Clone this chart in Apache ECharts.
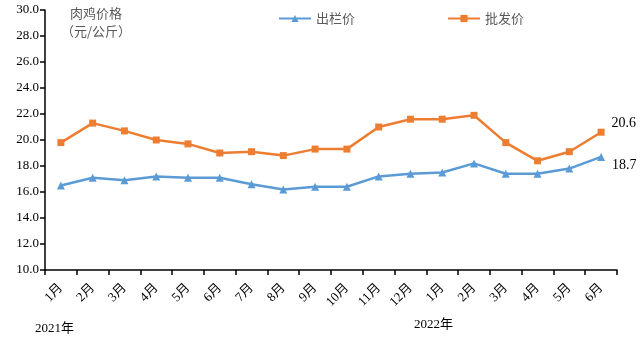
<!DOCTYPE html>
<html>
<head>
<meta charset="utf-8">
<script src="https://cdn.jsdelivr.net/npm/echarts@6/dist/echarts.min.js"></script>
<style>
  html, body { margin: 0; padding: 0; background: #fff; }
  #chart { width: 643px; height: 343px; }
</style>
</head>
<body>
<div id="chart"></div>
<script>
// Monthly broiler prices, Jan 2021 – Jun 2022 (yuan per kg)
const months = ['1月','2月','3月','4月','5月','6月','7月','8月','9月','10月','11月','12月',
                '1月','2月','3月','4月','5月','6月'];
const farmGatePrice = [16.5, 17.1, 16.9, 17.2, 17.1, 17.1, 16.6, 16.2, 16.4, 16.4, 17.2, 17.4,
                       17.5, 18.2, 17.4, 17.4, 17.8, 18.7];
const wholesalePrice = [19.8, 21.3, 20.7, 20.0, 19.7, 19.0, 19.1, 18.8, 19.3, 19.3, 21.0, 21.6,
                        21.6, 21.9, 19.8, 18.4, 19.1, 20.6];
const yearLabels = ['2021年', '2022年'];

const serif = '"Times New Roman", "Liberation Serif", "Noto Sans CJK SC", serif';
const cjk = '"Noto Sans CJK SC", sans-serif';
const blue = '#5B9BD5';
const orange = '#ED7D31';

const chart = echarts.init(document.getElementById('chart'));

// Value label only on the final month, nudged above or below the line end
function lastLabel(n, dy) {
  return {
    show: true,
    position: 'right',
    distance: 7,
    offset: [0, dy],
    color: '#000',
    fontFamily: serif,
    fontSize: 14,
    formatter: p => (p.dataIndex === n - 1 ? p.value.toFixed(1) : '')
  };
}

chart.setOption({
  animation: false,
  grid: { left: 45, right: 26, top: 10, bottom: 73 },
  legend: {
    top: 7,
    left: 273,
    itemGap: 92,
    itemWidth: 32,
    itemHeight: 9,
    textStyle: { color: '#595959', fontFamily: cjk, fontSize: 13 },
    data: ['出栏价', '批发价']
  },
  xAxis: {
    type: 'category',
    data: months,
    boundaryGap: true,
    axisLine: { lineStyle: { color: '#000', width: 1.5 } },
    axisTick: { show: true, alignWithLabel: false, length: 5, lineStyle: { color: '#000', width: 1.5 } },
    axisLabel: {
      interval: 0,
      rotate: 45,
      color: '#000',
      fontFamily: serif,
      fontSize: 13,
      margin: 16
    }
  },
  yAxis: {
    type: 'value',
    min: 10,
    max: 30,
    interval: 2,
    splitLine: { show: false },
    axisLine: { show: true, lineStyle: { color: '#000', width: 1.5 } },
    axisTick: { show: true, length: 5, lineStyle: { color: '#000', width: 1.5 } },
    axisLabel: {
      color: '#000',
      fontFamily: serif,
      fontSize: 13,
      margin: 6,
      formatter: v => v.toFixed(1)
    }
  },
  graphic: [
    {
      type: 'text', x: 96, y: 4,
      style: { text: '肉鸡价格\n（元/公斤）', fill: '#595959', font: '13px ' + cjk, lineHeight: 18, align: 'center' }
    },
    {
      type: 'text', left: 35, top: 322,
      style: { text: yearLabels[0], fill: '#000', font: '13px ' + serif }
    },
    {
      type: 'text', left: 414, top: 318,
      style: { text: yearLabels[1], fill: '#000', font: '13px ' + serif }
    }
  ],
  series: [
    {
      name: '出栏价',
      type: 'line',
      data: farmGatePrice,
      symbol: 'triangle',
      symbolSize: 8,
      color: blue,
      lineStyle: { width: 2.5, color: blue },
      itemStyle: { color: blue },
      label: lastLabel(farmGatePrice.length, 8)
    },
    {
      name: '批发价',
      type: 'line',
      data: wholesalePrice,
      symbol: 'rect',
      symbolSize: 7,
      color: orange,
      lineStyle: { width: 2.5, color: orange },
      itemStyle: { color: orange },
      label: lastLabel(wholesalePrice.length, -9)
    }
  ]
});
</script>
</body>
</html>
